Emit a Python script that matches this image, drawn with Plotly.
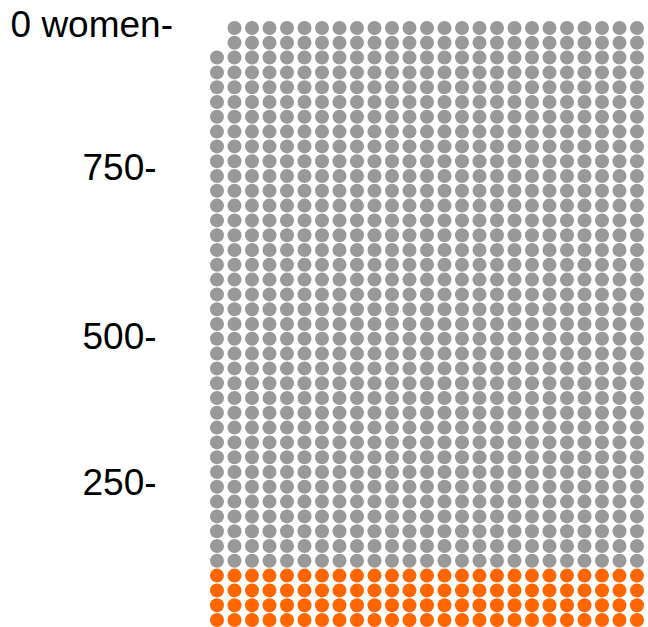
import plotly.graph_objects as go

# ---- data ----
column_heights = [39] + [41] * 24          # dots stacked in each of the 25 columns
orange_rows = 4                            # bottom rows in orange (100 women)
tick_positions = [9.35, 19.2, 30.6, 40.25] # row positions of the axis labels
tick_labels = ["250-\u00a0\u2006", "500-\u00a0\u2006", "750-\u00a0\u2006", "0 women-"]

grey_x, grey_y, orange_x, orange_y = [], [], [], []
for col, h in enumerate(column_heights):
    for row in range(h):
        if row < orange_rows:
            orange_x.append(col); orange_y.append(row)
        else:
            grey_x.append(col); grey_y.append(row)

fig = go.Figure()
fig.add_trace(go.Scatter(x=grey_x, y=grey_y, mode="markers",
                         marker=dict(color="#999999", size=14, line=dict(width=0)),
                         hoverinfo="skip", showlegend=False))
fig.add_trace(go.Scatter(x=orange_x, y=orange_y, mode="markers",
                         marker=dict(color="#FF6600", size=14, line=dict(width=0)),
                         hoverinfo="skip", showlegend=False))

fig.update_layout(
    width=648, height=627,
    margin=dict(l=200, r=0, t=0, b=0),
    paper_bgcolor="white", plot_bgcolor="white",
    font=dict(family="Arial, Liberation Sans, sans-serif", size=37, color="black"),
    xaxis=dict(range=[-0.971, 24.629], visible=False, fixedrange=True),
    yaxis=dict(range=[-0.473, 41.89], showgrid=False, zeroline=False,
               showline=False, ticks="", tickvals=tick_positions,
               ticktext=tick_labels, ticklabelstandoff=26, fixedrange=True),
)

fig.write_html("out.html", config={"displayModeBar": False},
               post_script="document.body.style.margin='0';document.body.style.overflow='hidden';")
